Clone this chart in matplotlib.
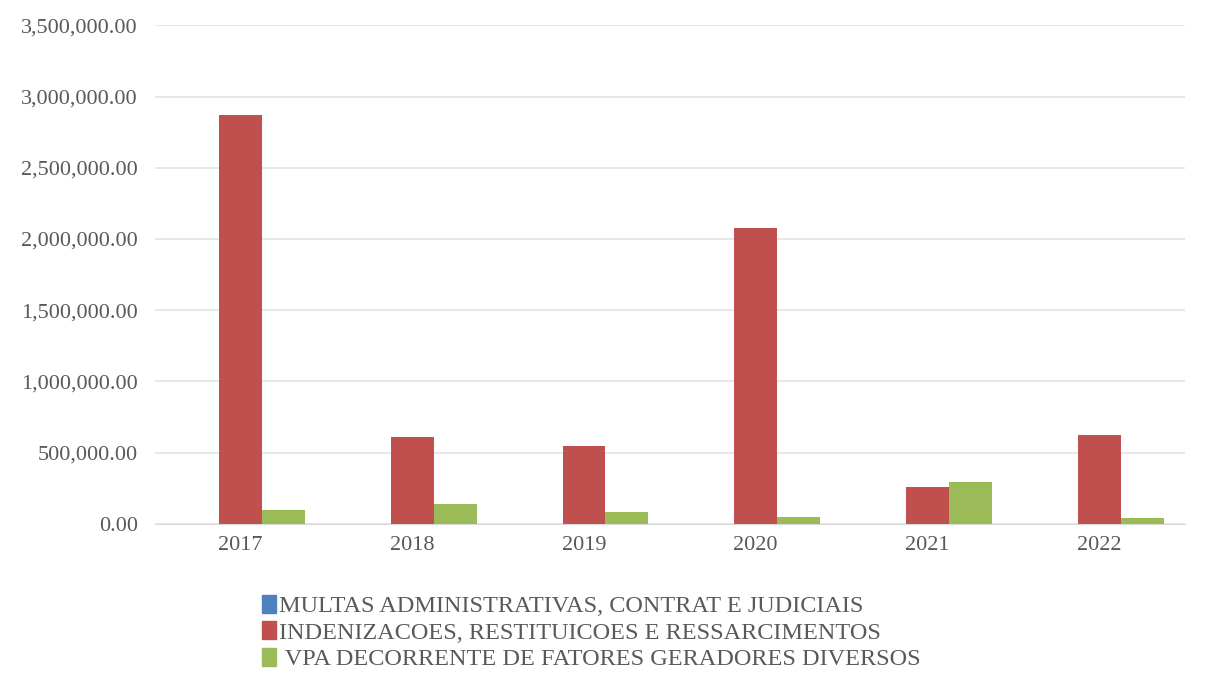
import matplotlib
matplotlib.use("Agg")
import matplotlib.pyplot as plt
import numpy as np
from matplotlib.patches import Patch

years = ["2017", "2018", "2019", "2020", "2021", "2022"]
multas = [2000, 1500, 1000, 3000, 1000, 2000]
indenizacoes = [2870000, 610000, 550000, 2075000, 262000, 625000]
vpa_diversos = [100000, 142000, 85000, 48000, 295000, 42000]

series = [
    ("MULTAS ADMINISTRATIVAS, CONTRAT E JUDICIAIS", multas, "#4F81BD"),
    ("INDENIZACOES, RESTITUICOES E RESSARCIMENTOS", indenizacoes, "#C0504D"),
    (" VPA DECORRENTE DE FATORES GERADORES DIVERSOS", vpa_diversos, "#9BBB59"),
]

plt.rcParams["font.family"] = ["Liberation Serif", "DejaVu Serif"]
text_col = "#595959"

fig = plt.figure(figsize=(12.08, 6.84), dpi=100)
ax = fig.add_axes([0.128, 0.234, 0.853, 0.729])

x = np.arange(len(years))
w = 0.25
for i, (name, vals, col) in enumerate(series):
    ax.bar(x + (i - 1) * w, vals, width=w, color=col, label=name, zorder=3)

ax.set_ylim(0, 3500000)
ax.set_xlim(-0.5, len(years) - 0.5)
ax.set_yticks(np.arange(0, 3500001, 500000))
ax.yaxis.set_major_formatter(matplotlib.ticker.FuncFormatter(lambda v, p: f"{v:,.2f}"))
ax.set_xticks(x)
ax.set_xticklabels(years)
ax.tick_params(axis="both", length=0, labelsize=16, colors=text_col)
ax.tick_params(axis="y", pad=12)
ax.tick_params(axis="x", pad=9)
ax.grid(axis="y", color="#e3e3e3", lw=1.2, zorder=0)
for s in ("top", "right", "left"):
    ax.spines[s].set_visible(False)
ax.spines["bottom"].set_color("#d9d9d9")

handles = [Patch(color=col) for _, _, col in series]
fig.legend(handles, [s[0] for s in series], loc="upper left",
           bbox_to_anchor=(0.207, 0.148), frameon=False, fontsize=17.5,
           labelcolor=text_col, handlelength=0.55, handleheight=0.75,
           handletextpad=0.15, labelspacing=0.17, borderpad=0)

fig.savefig("out.png")
